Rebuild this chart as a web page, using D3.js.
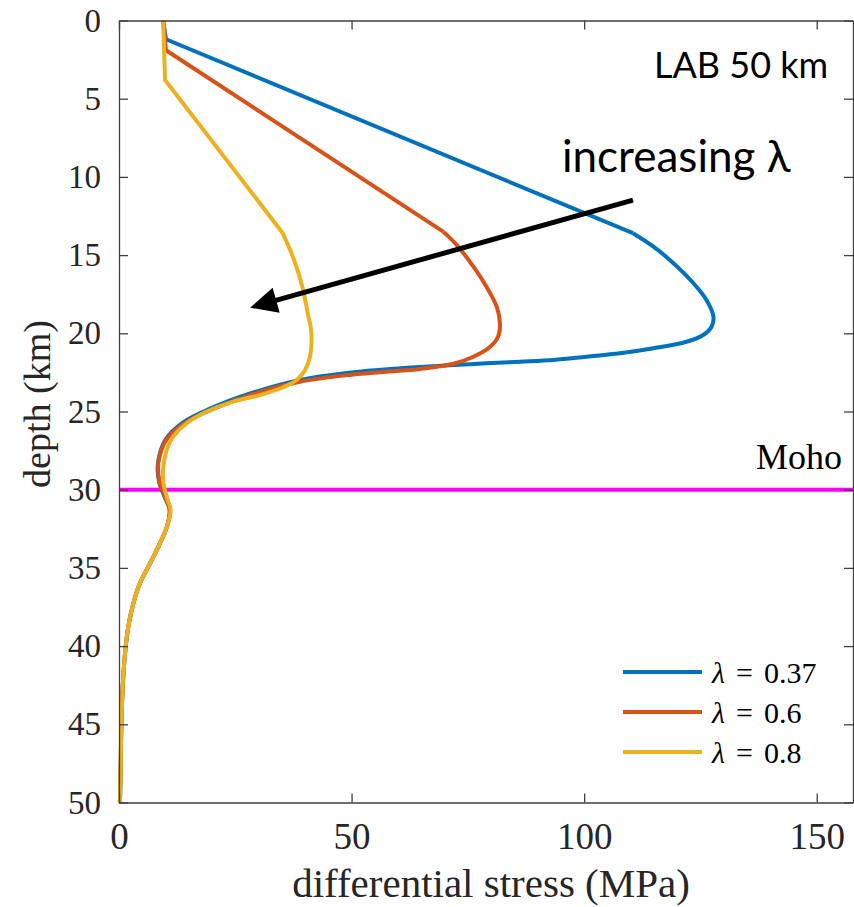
<!DOCTYPE html>
<html>
<head>
<meta charset="utf-8">
<script src="https://cdn.jsdelivr.net/npm/d3@7/dist/d3.min.js"></script>
<style>
  html, body { margin: 0; padding: 0; background: #fff; }
  svg { display: block; }
</style>
</head>
<body>
<svg id="chart" width="854" height="907"></svg>
<script>
// Differential stress (MPa) vs depth (km) for three values of the pore-fluid factor lambda.
const seriesNames = ["λ = 0.37", "λ = 0.6", "λ = 0.8"];
const seriesLambda = ["0.37", "0.6", "0.8"];
const seriesColors = ["#0072BD", "#D95319", "#EDB120"];

// index of the point where the straight brittle segment ends
const kinkIndex = [2, 2, 2];

const stress037 = [9.5, 10.1, 110.5, 114.9, 119.2, 123.5, 126.3, 127.8, 127.4, 125.6, 122.0, 114.9, 107.7, 100.5, 93.4, 86.2, 79.0, 71.9, 64.7, 60.4, 50.0, 38.9, 28.2, 19.6, 13.8, 10.0, 8.6, 8.3, 8.7, 9.8, 10.9, 10.3, 8.8, 6.7, 4.5, 3.1, 2.0, 1.3, 0.8, 0.5, 0.37, 0.2];
const depth037  = [0, 1.2, 13.6, 14.46, 15.52, 16.8, 17.87, 18.94, 19.58, 20.11, 20.54, 20.96, 21.28, 21.5, 21.71, 21.82, 21.92, 22.03, 22.15, 22.24, 22.5, 22.98, 23.85, 24.82, 25.7, 26.8, 27.9, 28.7, 29.6, 30.45, 31.3, 32.37, 33.43, 34.7, 35.98, 37.26, 38.76, 40.46, 42.6, 45.15, 47.7, 50];

const stress06 = [9.5, 10.1, 69.7, 72.6, 76.2, 79.0, 81.2, 81.9, 81.5, 79.8, 76.2, 71.9, 64.7, 60.4, 50.0, 38.9, 28.2, 19.6, 13.8, 10.1, 8.7, 8.4, 8.8, 9.9, 10.9, 10.3, 8.8, 6.7, 4.5, 3.1, 2.0, 1.3, 0.8, 0.5, 0.37, 0.2];
const depth06  = [0, 1.9, 13.5, 14.35, 15.74, 17.02, 18.3, 19.36, 20.22, 20.86, 21.5, 21.95, 22.28, 22.4, 22.65, 23.1, 23.95, 24.92, 25.8, 26.85, 27.9, 28.7, 29.6, 30.45, 31.3, 32.37, 33.43, 34.7, 35.98, 37.26, 38.76, 40.46, 42.6, 45.15, 47.7, 50];

const stress08 = [9.5, 9.9, 35.1, 37.5, 39.4, 40.7, 41.2, 41.4, 41.05, 40.0, 38.2, 35.3, 30.3, 24.6, 18.85, 14.55, 11.67, 10.25, 9.53, 9.53, 10.25, 11.1, 10.3, 8.8, 6.7, 4.5, 3.1, 2.0, 1.3, 0.8, 0.5, 0.37, 0.2];
const depth08  = [0, 3.8, 13.55, 15.2, 17.0, 18.9, 19.6, 20.43, 21.5, 22.35, 22.99, 23.45, 23.95, 24.37, 25.01, 25.75, 26.6, 27.46, 28.53, 29.5, 30.45, 31.3, 32.37, 33.43, 34.7, 35.98, 37.26, 38.76, 40.46, 42.6, 45.15, 47.7, 50];

const stressSeries = [stress037, stress06, stress08];
const depthSeries = [depth037, depth06, depth08];

// axis ticks
const xTicks = [0, 50, 100, 150];
const yTicks = [0, 5, 10, 15, 20, 25, 30, 35, 40, 45, 50];
const mohoDepth = 30;

// annotation arrow: tail and head in data units (stress, depth)
const arrowTail = [110.5, 11.48];
const arrowHead = [28.2, 18.36];

const SERIF = '"Liberation Serif", "Times New Roman", Times, serif';
const SANS = 'Lato, "Open Sans", sans-serif';

const svg = d3.select("#chart");
const x = d3.scaleLinear().domain([0, 157.8]).range([119, 853]);
const y = d3.scaleLinear().domain([0, 50]).range([20.5, 802.5]);

const axisColor = "#404040";
const tickLen = 9;

// Moho line
svg.append("line")
  .attr("x1", x(0)).attr("x2", 854)
  .attr("y1", y(mohoDepth)).attr("y2", y(mohoDepth))
  .attr("stroke", "#FF00FF").attr("stroke-width", 4);

svg.append("text")
  .attr("x", 842).attr("y", 469).attr("text-anchor", "end")
  .style("font-family", SERIF).style("font-size", "36px").style("fill", "#000")
  .text("Moho");

// stress profiles
seriesNames.forEach((name, i) => {
  const pts = stressSeries[i].map((s, j) => [s, depthSeries[i][j]]);
  const k = kinkIndex[i];
  const straight = d3.line().x(d => x(d[0])).y(d => y(d[1])).curve(d3.curveLinear);
  const smooth = d3.line().x(d => x(d[0])).y(d => y(d[1])).curve(d3.curveCatmullRom.alpha(0.5));
  const g = svg.append("g").attr("fill", "none").attr("stroke", seriesColors[i])
    .attr("stroke-width", 4).attr("stroke-linejoin", "round").attr("stroke-linecap", "butt");
  g.append("path").attr("d", straight(pts.slice(0, k + 1)));
  g.append("path").attr("d", smooth(pts.slice(k)));
});

// axes
function styleAxis(g, size) {
  g.attr("font-family", null);
  g.selectAll(".domain").attr("stroke", axisColor).attr("stroke-width", 1.3);
  g.selectAll(".tick line").attr("stroke", axisColor).attr("stroke-width", 1.3);
  g.selectAll("text")
    .attr("fill", "#262626")
    .style("font-family", SERIF)
    .style("font-size", size + "px");
}

const xAxis = svg.append("g").attr("transform", `translate(0,${y(50)})`)
  .call(d3.axisBottom(x).tickValues(xTicks).tickSizeInner(-tickLen).tickSizeOuter(0).tickPadding(20).tickFormat(d3.format("d")));
styleAxis(xAxis, 37);

const xTop = svg.append("g").attr("transform", `translate(0,${y(0)})`)
  .call(d3.axisTop(x).tickValues(xTicks).tickSizeInner(-tickLen).tickSizeOuter(0).tickFormat(""));
styleAxis(xTop, 37);

const yAxis = svg.append("g").attr("transform", `translate(${x(0)},0)`)
  .call(d3.axisLeft(y).tickValues(yTicks).tickSizeInner(-tickLen).tickSizeOuter(0).tickPadding(18).tickFormat(d3.format("d")));
styleAxis(yAxis, 33);

const yRight = svg.append("g").attr("transform", `translate(${x(157.8)},0)`)
  .call(d3.axisRight(y).tickValues(yTicks).tickSizeInner(-tickLen).tickSizeOuter(0).tickFormat(""));
styleAxis(yRight, 33);

// axis titles
svg.append("text")
  .attr("x", 491).attr("y", 897).attr("text-anchor", "middle")
  .style("font-family", SERIF).style("font-size", "41px").style("fill", "#262626")
  .text("differential stress (MPa)");

svg.append("text")
  .attr("transform", "translate(50,404) rotate(-90)").attr("text-anchor", "middle")
  .style("font-family", SERIF).style("font-size", "38px").style("fill", "#262626")
  .text("depth (km)");

// annotations
svg.append("text")
  .attr("x", 654).attr("y", 78)
  .style("font-family", SANS).style("font-size", "36px").style("fill", "#000")
  .text("LAB 50 km");

svg.append("text")
  .attr("x", 562).attr("y", 172)
  .style("font-family", SANS).style("font-size", "44px").style("fill", "#000")
  .text("increasing λ");

// arrow from tail to head
{
  const x0 = x(arrowTail[0]), y0 = y(arrowTail[1]);
  const x1 = x(arrowHead[0]), y1 = y(arrowHead[1]);
  const ang = Math.atan2(y1 - y0, x1 - x0);
  const headLen = 27, headHalf = 13;
  const bx = x1 - headLen * Math.cos(ang), by = y1 - headLen * Math.sin(ang);
  svg.append("line")
    .attr("x1", x0).attr("y1", y0).attr("x2", bx + 4 * Math.cos(ang)).attr("y2", by + 4 * Math.sin(ang))
    .attr("stroke", "#000").attr("stroke-width", 5);
  const px = -Math.sin(ang), py = Math.cos(ang);
  svg.append("polygon")
    .attr("points", [
      [x1, y1],
      [bx + headHalf * px, by + headHalf * py],
      [bx - headHalf * px, by - headHalf * py]
    ].map(p => p.join(",")).join(" "))
    .attr("fill", "#000");
}

// legend
const legend = svg.append("g");
seriesNames.forEach((name, i) => {
  const ly = 672 + i * 40;
  legend.append("line").attr("x1", 623).attr("x2", 702).attr("y1", ly).attr("y2", ly)
    .attr("stroke", seriesColors[i]).attr("stroke-width", 4);
  const t = legend.append("text")
    .attr("x", 712).attr("y", ly + 11)
    .style("font-family", SERIF).style("font-size", "30px").style("fill", "#000");
  t.append("tspan").style("font-style", "italic").text("λ");
  t.append("tspan").attr("dx", 11).text("=");
  t.append("tspan").attr("dx", 11).text(seriesLambda[i]);
});
</script>
</body>
</html>
